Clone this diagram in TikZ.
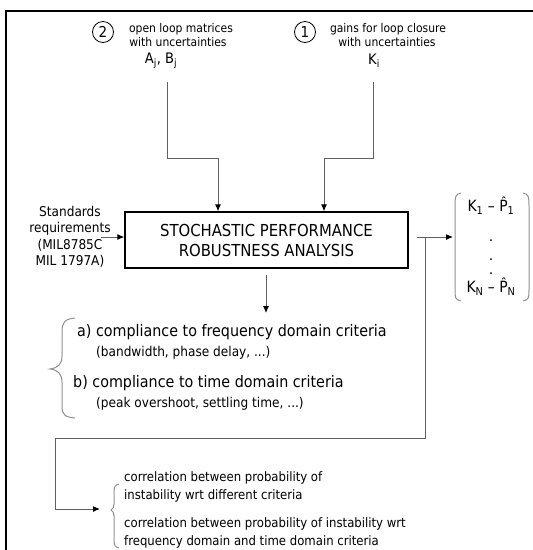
\documentclass[tikz,border=0pt]{standalone}
\usepackage{fontspec}
\setmainfont{DejaVu Sans Condensed}
\usetikzlibrary{arrows.meta}
\definecolor{conn}{HTML}{606060}
\definecolor{brc}{HTML}{909090}
\tikzset{
  txt/.style={inner sep=0pt, text=black},
  lab/.style={txt, font=\fontsize{12}{14}\selectfont},
  cnum/.style={circle, draw=black, line width=0.8pt, minimum size=21pt, inner sep=0pt, font=\fontsize{15}{17}\selectfont},
  conline/.style={draw=conn, line width=1pt},
  arr/.style={conline, -{Latex[length=7pt,width=6pt,black]}},
  brace/.style={draw=brc, line width=1pt},
  mainbox/.style={draw=black, line width=1.2pt, minimum width=283pt, minimum height=56pt, inner sep=0pt, align=center, font=\fontsize{16.5}{20}\selectfont},
}
\begin{document}
\begin{tikzpicture}[x=1pt,y=-1pt]
\useasboundingbox (0,0) rectangle (533,550);
% frame
\draw[black, line width=1.6pt] (6,551) -- (6,11) -- (534,11);

% top-left input
\node[cnum] (c2) at (103,32) {2};
\node[lab] (t2a) at (181,29) {open loop matrices};
\node[lab] (t2b) at (178,42) {with uncertainties};
\node[txt, font=\fontsize{14.5}{17}\selectfont] (ab) at (161,61) {A\textsubscript{j}, B\textsubscript{j}};

% top-right input
\node[cnum] (c1) at (305,32) {1};
\node[lab] (t1a) at (388,29) {gains for loop closure};
\node[lab] (t1b) at (387,42) {with uncertainties};
\node[txt, font=\fontsize{14.5}{17}\selectfont] (ki) at (374,61) {K\textsubscript{i}};

% main box
\node[mainbox] (box) at (266.5,240) {STOCHASTIC PERFORMANCE\\ROBUSTNESS ANALYSIS};

% standards
\node[txt, align=center, font=\fontsize{13.5}{16.5}\selectfont] (std) at (70,237) {Standards\\requirements\\(MIL8785C\\MIL 1797A)};

% connectors top
\coordinate (a1) at (167,82);
\coordinate (a2) at (167,158);
\coordinate (a3) at (218,158);
\coordinate (b1) at (373,82);
\coordinate (b2) at (373,158);
\coordinate (b3) at (324,158);
\draw[arr] (a1) -- (a2) -- (a3) -- (a3 |- box.north);
\draw[arr] (b1) -- (b2) -- (b3) -- (b3 |- box.north);

\coordinate (sa) at (101,237);
\draw[arr] (sa) -- (box.west |- sa);

% matrix
\node[txt, font=\fontsize{15.5}{17}\selectfont] (m1) at (491,206) {K\textsubscript{1} – \^{P}\textsubscript{1}};
\node[txt, font=\fontsize{15.5}{17}\selectfont] (mN) at (491,287) {K\textsubscript{N} – \^{P}\textsubscript{N}};
\fill (491,240) circle (1pt) (491,259) circle (1pt) (491,273) circle (1pt);
\draw[brace] (461,193) .. controls (455,194) and (455,198) .. (455,205) -- (455,290) .. controls (455,297) and (455,300) .. (461,301);
\draw[brace] (523,193) .. controls (529,194) and (529,198) .. (529,205) -- (529,290) .. controls (529,297) and (529,300) .. (523,301);
\coordinate (mat) at (453,237);

% right output and loop
\coordinate (r0) at (417,237);
\coordinate (r1) at (425,237);
\coordinate (r2) at (425,438);
\coordinate (r3) at (55,438);
\coordinate (r4) at (55,509);
\draw[arr] (r0) -- (mat);
\draw[conline] (r1) -- (r2) -- (r3) -- (r4);

% down arrow
\coordinate (d1) at (266,275);
\coordinate (d2) at (266,313);
\draw[arr] (d1) -- (d2);

% criteria
\draw[brace] (75,318) .. controls (65,319) and (62,322) .. (62,332) -- (62,356) .. controls (62,364) and (58,368) .. (50,369) .. controls (58,370) and (62,374) .. (62,382) -- (62,406) .. controls (62,415) and (65,417) .. (75,418);
\node[txt, anchor=west, font=\fontsize{15.9}{18}\selectfont] (ca) at (77,332) {a) compliance to frequency domain criteria};
\node[txt, anchor=west, font=\fontsize{13.5}{15}\selectfont] (cab) at (96,353) {(bandwidth, phase delay, ...)};
\node[txt, anchor=west, font=\fontsize{15.9}{18}\selectfont] (cb) at (73,383) {b) compliance to time domain criteria};
\node[txt, anchor=west, font=\fontsize{13.5}{15}\selectfont] (cbb) at (96,404) {(peak overshoot, settling time, ...)};

% correlation
\draw[brace] (119,484) .. controls (115,485) and (114,487) .. (114,492) -- (114,504) .. controls (114,507) and (113,509) .. (111,510) .. controls (113,511) and (114,513) .. (114,516) -- (114,540) .. controls (114,545) and (115,547) .. (119,548);
\node[txt, anchor=west, font=\fontsize{13}{15}\selectfont] (k1) at (124,478) {correlation between probability of};
\node[txt, anchor=west, font=\fontsize{13}{15}\selectfont] (k2) at (124,496) {instability wrt different criteria};
\node[txt, anchor=west, font=\fontsize{13}{15}\selectfont] (k3) at (124,524) {correlation between probability of instability wrt};
\node[txt, anchor=west, font=\fontsize{13}{15}\selectfont] (k4) at (124,542) {frequency domain and time domain criteria};
\coordinate (kt) at (100,509);
\draw[arr] (r4) -- (kt);
\end{tikzpicture}
\end{document}
